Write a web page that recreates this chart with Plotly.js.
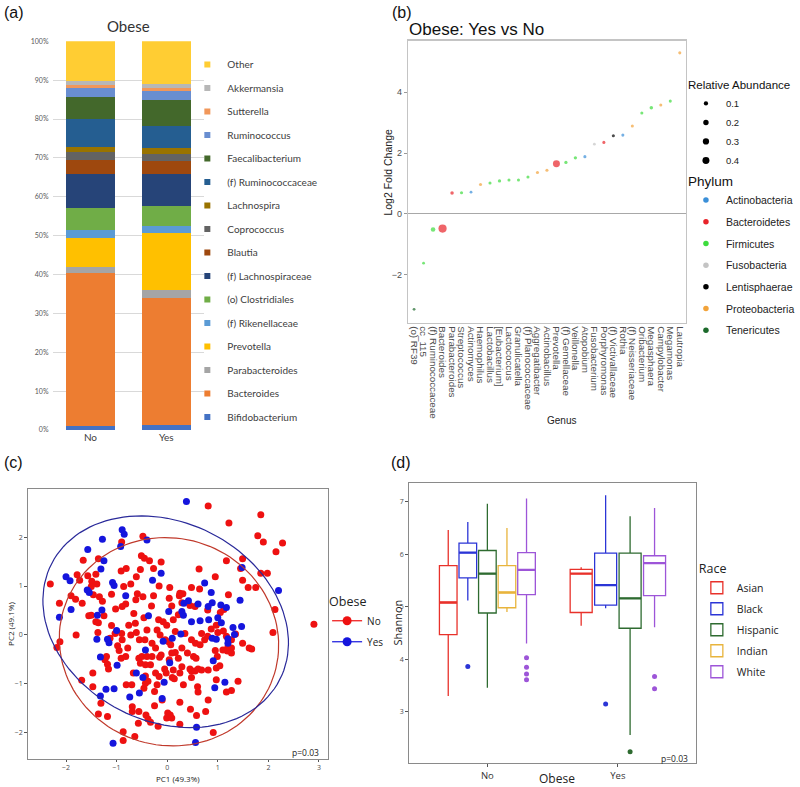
<!DOCTYPE html>
<html><head><meta charset="utf-8">
<script src="https://cdn.plot.ly/plotly-3.0.1.min.js"></script>
<style>body{margin:0;background:#fff}#chart{width:800px;height:787px}</style>
</head><body><div id="chart"></div>
<script>
// ---------- Panel (a): stacked relative abundance ----------
const groupsA = ['No','Yes'];
const genusA = ['Bifidobacterium','Bacteroides','Parabacteroides','Prevotella','(f) Rikenellaceae','(o) Clostridiales','(f) Lachnospiraceae','Blautia','Coprococcus','Lachnospira','(f) Ruminococcaceae','Faecalibacterium','Ruminococcus','Sutterella','Akkermansia','Other'];
const pctNo  = [1.0,39.4,1.5,7.6,2.0,5.7,8.6,3.6,2.1,1.4,7.0,5.9,2.3,0.7,1.1,10.1];
const pctYes = [1.3,32.6,2.1,14.8,1.8,5.0,8.2,3.4,1.8,1.6,5.5,6.7,2.3,1.0,0.9,11.0];
const colorsA = ['#4472C4','#ED7D31','#A5A5A5','#FFC000','#5B9BD5','#70AD47','#264478','#9E480E','#636363','#997300','#255E91','#43682B','#698ED0','#F1975A','#B7B7B7','#FFCD33'];
const ticksA = [0,10,20,30,40,50,60,70,80,90,100];

// ---------- Panel (b): log2 fold change ----------
const genusB = ['(o) RF39','cc_115','(f) Ruminococcaceae','Bacteroides','Parabacteroides','Streptococcus','Actinomyces','Haemophilus','Lactobacillus','[Eubacterium]','Lactococcus','Granulicatella','(f) Planococcaceae','Aggregatibacter','Actinobacillus','Prevotella','(f) Gemellaceae','Veillonella','Atopobium','Fusobacterium','Porphyromonas','(f) Victivallaceae','Rothia','(f) Neisseriaceae','Oribacterium','Megasphaera','Campylobacter','Megamonas','Lautropia'];
const log2fc = [-3.15,-1.63,-0.52,-0.49,0.68,0.69,0.71,0.96,1.01,1.08,1.11,1.11,1.21,1.36,1.43,1.65,1.69,1.84,1.88,2.29,2.35,2.57,2.59,2.89,3.32,3.49,3.58,3.71,5.30];
const phylumB = ['Tenericutes','Firmicutes','Firmicutes','Bacteroidetes','Bacteroidetes','Firmicutes','Actinobacteria','Proteobacteria','Firmicutes','Firmicutes','Firmicutes','Firmicutes','Firmicutes','Proteobacteria','Proteobacteria','Bacteroidetes','Firmicutes','Firmicutes','Actinobacteria','Fusobacteria','Bacteroidetes','Lentisphaerae','Actinobacteria','Proteobacteria','Firmicutes','Firmicutes','Proteobacteria','Firmicutes','Proteobacteria'];
const abundB = [0.02,0.02,0.12,0.6,0.05,0.03,0.02,0.03,0.03,0.04,0.03,0.03,0.03,0.03,0.03,0.4,0.04,0.04,0.03,0.02,0.03,0.03,0.03,0.03,0.03,0.05,0.03,0.03,0.03];
const phyla = ['Actinobacteria','Bacteroidetes','Firmicutes','Fusobacteria','Lentisphaerae','Proteobacteria','Tenericutes'];
const phylaColors = ['#3b8fd8','#e8232a','#3ddc3d','#c4c4c4','#000000','#f2a33a','#1c6a2b'];
const sizeLegend = [0.1,0.2,0.3,0.4];

// ---------- Panel (c): PCA ----------
const noX = [0.81,1.22,1.85,1.79,1.90,2.28,2.15,-0.48,-0.90,-1.36,-1.66,-1.57,-1.78,-1.73,-1.41,-1.49,-1.39,-2.31,-2.13,-1.81,-1.68,-1.80,-2.12,-2.18,-1.55,-1.50,-1.41,-1.36,-1.37,-1.25,-1.28,-1.10,-1.46,-1.50,-0.91,-0.81,-0.61,-0.72,-0.86,-0.53,-0.51,-0.45,-0.35,-0.12,-0.27,-0.16,0.05,-0.59,-0.62,-0.82,-0.66,-0.48,-0.27,0.04,0.25,0.31,0.24,0.48,0.64,0.63,0.95,1.21,1.17,1.45,1.49,1.60,1.75,1.85,2.13,2.09,2.90,1.05,1.12,0.80,0.29,0.45,0.55,0.09,-0.31,-0.46,-0.17,-0.08,-0.01,0.12,0.22,-0.76,-0.61,-0.90,-1.10,-1.13,-0.95,-0.78,-0.91,-1.23,-1.18,-1.16,-1.69,-1.47,-1.31,-1.36,-1.18,-0.81,-0.67,-0.69,-0.69,-0.57,-0.87,-0.87,-0.64,-0.56,-0.42,-0.38,-0.33,-0.18,-0.25,-0.25,-0.46,-0.38,-0.43,-0.20,-0.56,-0.50,-0.40,-0.30,-0.53,-0.43,-0.33,-0.30,-0.20,-0.14,-0.04,0.03,0.07,0.16,0.16,0.09,0.22,-0.15,-0.12,-0.05,-0.02,0.10,0.14,0.25,0.29,0.40,0.52,0.57,0.48,0.56,0.65,0.74,0.80,1.0,1.11,0.87,0.45,0.48,0.55,0.61,0.68,0.48,0.60,0.61,0.81,0.97,1.04,0.95,0.99,1.20,1.27,1.19,1.27,1.49,1.62,1.67,1.40,1.27,1.17,0.81,0.46,0.25,0.58,0.76,0.91,0.01,0.06,-0.01,0.09,0.25,-0.10,-0.70,-1.47,-0.98,-0.89,-1.20,-1.03,-0.63,-0.55,-0.72,-0.82,0.68,0.97,1.17,1.35,0.35,-0.40,-0.44,-0.23,0.29,0.04,0.12,0.32,0.97,-0.23,-0.43,-0.16,1.27,1.10,1.49,1.98,-0.89,-1.02,-1.34,-1.90];
const noY = [2.64,2.29,2.46,2.03,1.90,1.88,1.70,2.02,1.90,1.56,1.53,1.21,1.23,1.12,1.24,1.10,1.04,1.04,0.65,0.73,0.65,0.0,-0.14,-0.26,0.39,0.40,0.27,0.25,0.05,0.39,0.69,0.83,0.82,0.99,1.31,1.36,1.19,1.04,0.99,1.34,1.62,1.57,1.52,1.49,1.36,1.00,0.97,0.84,0.72,0.63,0.44,0.78,0.80,0.75,0.85,0.84,0.80,0.97,0.94,1.35,1.19,0.82,1.52,1.36,1.56,0.97,0.97,1.26,0.52,0.05,0.22,0.46,0.52,0.51,0.66,0.60,0.58,0.59,0.59,0.35,0.31,0.27,0.20,0.31,0.41,0.20,0.05,0.03,0.19,-0.07,-0.32,-0.27,-0.48,-0.51,-0.60,-0.70,-0.93,-1.06,-1.40,-1.62,-1.67,-1.02,-0.78,-1.47,-1.57,-1.81,-1.98,-2.16,-2.08,-1.57,-1.64,-1.72,-1.79,-1.87,-1.45,-1.16,-1.09,-0.95,-0.84,-1.02,-0.48,-0.44,-0.44,-0.44,-0.58,-0.61,-0.61,-0.17,0.10,0.0,-0.10,-0.14,-0.20,0.07,-0.36,-0.37,-0.48,-0.46,-0.41,-0.70,-0.78,-0.87,-0.90,-0.78,-0.65,-0.37,-0.44,-0.48,-0.10,-0.17,-0.20,-0.10,-0.03,0.05,0.08,0.12,-0.70,-0.74,-0.74,-0.70,-0.72,-0.87,-1.06,-1.17,-0.72,-0.68,-0.63,-0.32,-0.44,-0.25,-0.27,-0.33,-0.37,-0.17,-0.27,-0.29,-0.95,-1.14,-1.17,-1.33,-1.52,-1.38,-1.65,-1.57,-2.00,-1.60,-1.64,-1.70,-1.70,-1.83,-1.33,-1.02,-0.78,-0.22,-0.10,-0.44,0.03,0.24,-0.10,0.0,-0.44,0.03,0.20,-0.03,0.02,0.03,0.10,-0.10,-0.27,-0.27,-0.51,-0.72,-1.02,-0.92,-0.78,-0.99,-0.85,-0.10,-0.31,1.12,1.26,0.58,0.53,0.78,0.80];
const yesX = [0.38,-0.89,-0.85,-1.28,-0.92,-0.40,-1.57,-1.25,-1.31,-2.0,-1.92,-1.08,-1.05,-1.58,-1.54,-0.12,-0.29,-0.82,-1.29,-1.38,-1.90,-2.13,-1.0,-1.39,-1.18,-1.15,-1.32,-0.99,-0.37,0.03,-0.08,0.05,-0.43,-0.61,-0.55,-0.48,-0.06,-1.05,-1.21,-1.32,-0.74,-0.10,-1.07,0.58,0.56,0.42,0.61,0.29,0.32,0.48,0.27,0.10,0.74,0.87,0.81,0.89,1.06,1.17,0.65,0.82,1.0,1.07,0.89,0.97,1.20,1.30,1.33,1.47,1.44,1.48,2.20,1.20,0.91,0.94,1.14,0.33];
const yesY = [2.73,2.15,2.06,1.96,1.81,1.94,1.75,1.52,1.35,1.19,1.11,1.07,1.01,0.92,0.87,1.26,1.12,0.80,0.51,0.40,0.52,0.36,0.09,-0.09,-0.09,-0.16,-0.45,-0.62,0.39,0.48,-0.13,-0.57,-0.31,-0.78,-1.19,-0.87,-0.97,-1.10,-1.11,-1.25,-1.27,-1.30,-2.22,-1.89,-2.20,0.70,0.63,0.48,0.40,0.27,0.02,-0.07,1.06,0.87,0.58,0.66,0.61,0.56,0.29,0.31,0.35,0.25,-0.07,-0.09,-0.08,0.15,0.01,0.17,0.71,1.38,0.91,-0.17,-0.53,-1.08,-0.97,0.65];
// 95% ellipse parameters (centre, semi-axes, rotation in degrees)
const ellGroups = ['No','Yes'];
const ellCx = [0.035,-0.03];
const ellCy = [-0.14,0.27];
const ellA = [2.19,2.55];
const ellB = [2.11,2.02];
const ellAngle = [-31.7,-30.2];

// ---------- Panel (d): Shannon boxplots ----------
const races = ['Asian','Black','Hispanic','Indian','White'];
const raceColors = ['#e8312a','#2b35d6','#2e6b30','#e8b43c','#9d55d8'];
const obeseGroups = ['No','Yes'];
const boxRace   = ['Asian','Black','Hispanic','Indian','White','Asian','Black','Hispanic','White'];
const boxGroup  = ['No','No','No','No','No','Yes','Yes','Yes','Yes'];
const boxLow    = [3.30,5.12,3.46,4.90,4.30,4.64,4.97,2.56,4.61];
const boxQ1     = [4.47,5.55,4.88,4.98,5.23,4.89,5.03,4.59,5.21];
const boxMed    = [5.08,6.03,5.63,5.27,5.70,5.63,5.41,5.16,5.83];
const boxQ3     = [5.78,6.21,6.07,5.78,6.03,5.71,6.02,6.02,5.97];
const boxHigh   = [6.46,6.61,6.96,6.50,7.06,5.75,7.12,6.72,6.88];
const outRace  = ['Black','White','White','White','White','Black','Hispanic','White','White'];
const outGroup = ['No','No','No','No','No','Yes','Yes','Yes','Yes'];
const outVal   = [3.86,4.03,3.85,3.72,3.61,3.15,2.24,3.67,3.44];

// ---------- helpers ----------
const W = 800, H = 787;
const px = v => v / W, py = v => 1 - v / H;
const sizeFn = v => 1.6 + 8.5 * Math.sqrt(v);
const traces = [];

// Panel (a) bars
genusA.forEach((g, i) => {
  traces.push({type:'bar', x:groupsA, y:[pctNo[i], pctYes[i]], name:g, marker:{color:colorsA[i], line:{width:0}},
    xaxis:'x', yaxis:'y', showlegend:false, hoverinfo:'name+y'});
});
// legend entries, top of stack first
genusA.map((g, i) => i).reverse().forEach(i => {
  traces.push({type:'scatter', mode:'markers', x:[null], y:[null], name:genusA[i], xaxis:'x', yaxis:'y',
    marker:{symbol:'square', size:6, color:colorsA[i]}, legend:'legend', legendgroup:'a'+i, showlegend:true});
});

// Panel (b) points
phyla.forEach((p, k) => {
  const idx = phylumB.map((q, i) => q === p ? i : -1).filter(i => i >= 0);
  traces.push({type:'scatter', mode:'markers', x:idx.map(i => genusB[i]), y:idx.map(i => log2fc[i]),
    marker:{color:phylaColors[k], size:idx.map(i => sizeFn(abundB[i])), line:{width:0}},
    xaxis:'x2', yaxis:'y2', showlegend:false, name:p});
});
sizeLegend.forEach((v, i) => {
  traces.push({type:'scatter', mode:'markers', x:[null], y:[null], name:String(v), xaxis:'x2', yaxis:'y2',
    marker:{color:'#000', size:sizeFn(v)}, legend:'legend2', legendgroup:'s'+i, showlegend:true});
});
phyla.forEach((p, k) => {
  traces.push({type:'scatter', mode:'markers', x:[null], y:[null], name:p, xaxis:'x2', yaxis:'y2',
    marker:{color:phylaColors[k], size:5.5}, legend:'legend3', legendgroup:'p'+k, showlegend:true});
});

// Panel (c)
const grpCol = ['#ee1111','#1515dd'];
const ellCol = ['#c0392b','#2a2a9a'];
traces.push({type:'scatter', mode:'markers', x:noX, y:noY, xaxis:'x3', yaxis:'y3', marker:{color:grpCol[0], size:7}, showlegend:false, name:'No'});
traces.push({type:'scatter', mode:'markers', x:yesX, y:yesY, xaxis:'x3', yaxis:'y3', marker:{color:grpCol[1], size:7}, showlegend:false, name:'Yes'});
ellGroups.forEach((g, k) => {
  const th = ellAngle[k] * Math.PI / 180, ex = [], ey = [];
  for (let j = 0; j <= 120; j++) {
    const t = 2 * Math.PI * j / 120;
    ex.push(ellCx[k] + ellA[k] * Math.cos(th) * Math.cos(t) - ellB[k] * Math.sin(th) * Math.sin(t));
    ey.push(ellCy[k] + ellA[k] * Math.sin(th) * Math.cos(t) + ellB[k] * Math.cos(th) * Math.sin(t));
  }
  traces.push({type:'scatter', mode:'lines', x:ex, y:ey, xaxis:'x3', yaxis:'y3', line:{color:ellCol[k], width:1.2}, showlegend:false, hoverinfo:'skip'});
  traces.push({type:'scatter', mode:'lines+markers', x:[null], y:[null], name:g, xaxis:'x3', yaxis:'y3',
    line:{color:grpCol[k], width:1.2}, marker:{color:grpCol[k], size:9}, legend:'legend4', legendgroup:'c'+k, showlegend:true});
});

// Panel (d)
function dodge(race, group) {
  const g = obeseGroups.indexOf(group);
  const present = races.filter(r => boxRace.some((br, i) => br === r && boxGroup[i] === group));
  const n = present.length, i = present.indexOf(race), slot = 0.75 / n;
  return {pos: g + (i - (n - 1) / 2) * slot, width: 0.9 * slot};
}
const shownRace = {};
boxRace.forEach((r, i) => {
  const d = dodge(r, boxGroup[i]), c = raceColors[races.indexOf(r)];
  traces.push({type:'box', x:[d.pos], q1:[boxQ1[i]], median:[boxMed[i]], q3:[boxQ3[i]], lowerfence:[boxLow[i]], upperfence:[boxHigh[i]],
    width:d.width, boxpoints:false, whiskerwidth:0, line:{color:c, width:1.3}, fillcolor:'rgba(255,255,255,0)',
    xaxis:'x4', yaxis:'y4', name:r, legend:'legend5', legendgroup:'r'+r, showlegend:!shownRace[r]});
  shownRace[r] = true;
  // thicker median bar (ggplot fatten)
  traces.push({type:'scatter', mode:'lines', x:[d.pos - d.width / 2, d.pos + d.width / 2], y:[boxMed[i], boxMed[i]],
    line:{color:c, width:2.3}, xaxis:'x4', yaxis:'y4', showlegend:false, hoverinfo:'skip'});
});
races.forEach((r, k) => {
  const idx = outRace.map((q, i) => q === r ? i : -1).filter(i => i >= 0);
  if (!idx.length) return;
  traces.push({type:'scatter', mode:'markers', x:idx.map(i => dodge(r, outGroup[i]).pos), y:idx.map(i => outVal[i]),
    marker:{color:raceColors[k], size:5}, xaxis:'x4', yaxis:'y4', showlegend:false, name:r});
});

// ---------- layout ----------
const tickGrey = '#4d4d4d';
const annF = (t, x, y, o) => Object.assign({text:t, x:px(x), y:py(y), xref:'paper', yref:'paper', showarrow:false}, o);
const layout = {
  width:W, height:H, margin:{l:0, r:0, t:0, b:0}, paper_bgcolor:'#fff', plot_bgcolor:'#fff',
  barmode:'stack', bargap:0.36, showlegend:true,
  font:{family:'Liberation Sans, Arial, sans-serif'},
  xaxis:{domain:[px(53), px(206)], type:'category', range:[-0.5,1.5], showgrid:false, zeroline:false, ticks:'',
    tickfont:{family:'Lato', size:10, color:'#404040'}, anchor:'y', fixedrange:true},
  yaxis:{domain:[py(430), py(41.3)], range:[0,100], tickmode:'array', tickvals:ticksA, ticktext:ticksA.map(v => v + '%'),
    gridcolor:'#d9d9d9', gridwidth:1, zeroline:false, tickfont:{family:'Lato', size:7, color:'#595959'}, ticklabelstandoff:3, anchor:'x'},
  xaxis2:{domain:[px(412), px(692)], type:'category', categoryorder:'array', categoryarray:genusB, range:[-0.6,28.65],
    tickmode:'array', tickvals:genusB, ticktext:genusB,
    tickangle:90, tickfont:{family:'Liberation Sans', size:9.8, color:tickGrey}, showline:true, mirror:true,
    linecolor:'#c4c4c4', linewidth:1.5, showgrid:false, ticks:'', anchor:'y2'},
  yaxis2:{domain:[py(322.7), py(40.7)], range:[-3.59,5.70], tickvals:[-2,0,2,4], ticks:'outside', ticklen:3, tickcolor:'#999',
    showgrid:false, zeroline:true, zerolinecolor:'#a8a8a8', zerolinewidth:1.5, showline:true, mirror:true,
    linecolor:'#c4c4c4', linewidth:1.5, tickfont:{family:'Liberation Sans', size:9, color:tickGrey}, anchor:'x2'},
  xaxis3:{domain:[px(28.3), px(331)], range:[-2.75,3.18], tickvals:[-2,-1,0,1,2,3], ticks:'outside', ticklen:2, tickcolor:'#555',
    showline:true, mirror:true, linecolor:'#8a8a8a', linewidth:1, showgrid:false, zeroline:false,
    tickfont:{family:'Open Sans', size:7, color:tickGrey}, anchor:'y3'},
  yaxis3:{domain:[py(759), py(489.3)], range:[-2.54,2.98], tickvals:[-2,-1,0,1,2], ticks:'outside', ticklen:3, tickcolor:'#555',
    showline:true, mirror:true, linecolor:'#8a8a8a', linewidth:1, showgrid:false, zeroline:false,
    tickfont:{family:'Open Sans', size:7, color:tickGrey}, anchor:'x3'},
  xaxis4:{domain:[px(412.7), px(702.3)], range:[-0.6,1.6], tickvals:[0,1], ticktext:obeseGroups, ticks:'outside', ticklen:3, tickcolor:'#555',
    showline:true, mirror:true, linecolor:'#8a8a8a', linewidth:1, showgrid:false, zeroline:false,
    tickfont:{family:'Open Sans', size:9.5, color:'#333'}, anchor:'y4'},
  yaxis4:{domain:[py(763.3), py(482.7)], range:[2.02,7.36], tickvals:[3,4,5,6,7], ticks:'outside', ticklen:3, tickcolor:'#555',
    showline:true, mirror:true, linecolor:'#8a8a8a', linewidth:1, showgrid:false, zeroline:false,
    tickfont:{family:'Open Sans', size:7, color:tickGrey}, anchor:'x4'},
  legend:{x:px(189), y:py(50), xanchor:'left', yanchor:'top', traceorder:'grouped', tracegroupgap:4.5,
    font:{family:'Lato', size:10, color:'#404040'}, bgcolor:'rgba(0,0,0,0)', itemsizing:'trace'},
  legend2:{x:px(692), y:py(74), xanchor:'left', yanchor:'top', traceorder:'grouped', tracegroupgap:0,
    title:{text:'Relative Abundance', font:{family:'Liberation Sans', size:11.5, color:'#111'}},
    font:{family:'Liberation Sans', size:9.5, color:'#222'}, bgcolor:'rgba(0,0,0,0)', itemsizing:'trace'},
  legend3:{x:px(692), y:py(168), xanchor:'left', yanchor:'top', traceorder:'grouped', tracegroupgap:2.7,
    title:{text:'Phylum', font:{family:'Liberation Sans', size:13.5, color:'#111'}},
    font:{family:'Liberation Sans', size:10.5, color:'#222'}, bgcolor:'rgba(0,0,0,0)', itemsizing:'trace'},
  legend4:{x:px(330), y:py(590), xanchor:'left', yanchor:'top', traceorder:'grouped', tracegroupgap:2,
    title:{text:'Obese', font:{family:'Open Sans', size:12.5, color:'#222'}},
    font:{family:'Open Sans', size:10, color:'#222'}, bgcolor:'rgba(0,0,0,0)', itemsizing:'trace'},
  legend5:{x:px(703), y:py(557), xanchor:'left', yanchor:'top', traceorder:'grouped', tracegroupgap:2,
    title:{text:'Race', font:{family:'Open Sans', size:12.5, color:'#222'}},
    font:{family:'Open Sans', size:10.5, color:'#222'}, bgcolor:'rgba(0,0,0,0)'},
  annotations:[
    annF('(a)', 2, 12, {xanchor:'left', yanchor:'middle', font:{family:'Liberation Sans', size:16, color:'#111'}}),
    annF('(b)', 393, 12, {xanchor:'left', yanchor:'middle', font:{family:'Liberation Sans', size:16, color:'#111'}}),
    annF('(c)', 2, 462, {xanchor:'left', yanchor:'middle', font:{family:'Liberation Sans', size:16, color:'#111'}}),
    annF('(d)', 392, 462, {xanchor:'left', yanchor:'middle', font:{family:'Liberation Sans', size:16, color:'#111'}}),
    annF('Obese', 130, 26, {xanchor:'center', yanchor:'middle', font:{family:'Lato', size:15, color:'#333'}}),
    annF('Obese: Yes vs No', 411, 29, {xanchor:'left', yanchor:'middle', font:{family:'Liberation Sans', size:17, color:'#111'}}),
    annF('Log2 Fold Change', 391, 172, {xanchor:'center', yanchor:'middle', textangle:-90, font:{family:'Liberation Sans', size:10.5, color:'#222'}}),
    annF('Genus', 566, 421, {xanchor:'center', yanchor:'middle', font:{family:'Liberation Sans', size:10, color:'#222'}}),
    annF('PC1 (49.3%)', 180, 778, {xanchor:'center', yanchor:'middle', font:{family:'Open Sans', size:8, color:'#222'}}),
    annF('PC2 (49.1%)', 10, 624, {xanchor:'center', yanchor:'middle', textangle:-90, font:{family:'Open Sans', size:8, color:'#222'}}),
    annF('p=0.03', 324, 752, {xanchor:'right', yanchor:'middle', font:{family:'Open Sans', size:8.5, color:'#222'}}),
    annF('p=0.03', 696, 758, {xanchor:'right', yanchor:'middle', font:{family:'Open Sans', size:8.5, color:'#222'}}),
    annF('Obese', 562, 778, {xanchor:'center', yanchor:'middle', font:{family:'Open Sans', size:12, color:'#222'}}),
    annF('Shannon', 401, 622, {xanchor:'center', yanchor:'middle', textangle:-90, font:{family:'Open Sans', size:11, color:'#222'}})
  ]
};
Plotly.newPlot('chart', traces, layout, {displayModeBar:false, staticPlot:true});
</script>
</body></html>
